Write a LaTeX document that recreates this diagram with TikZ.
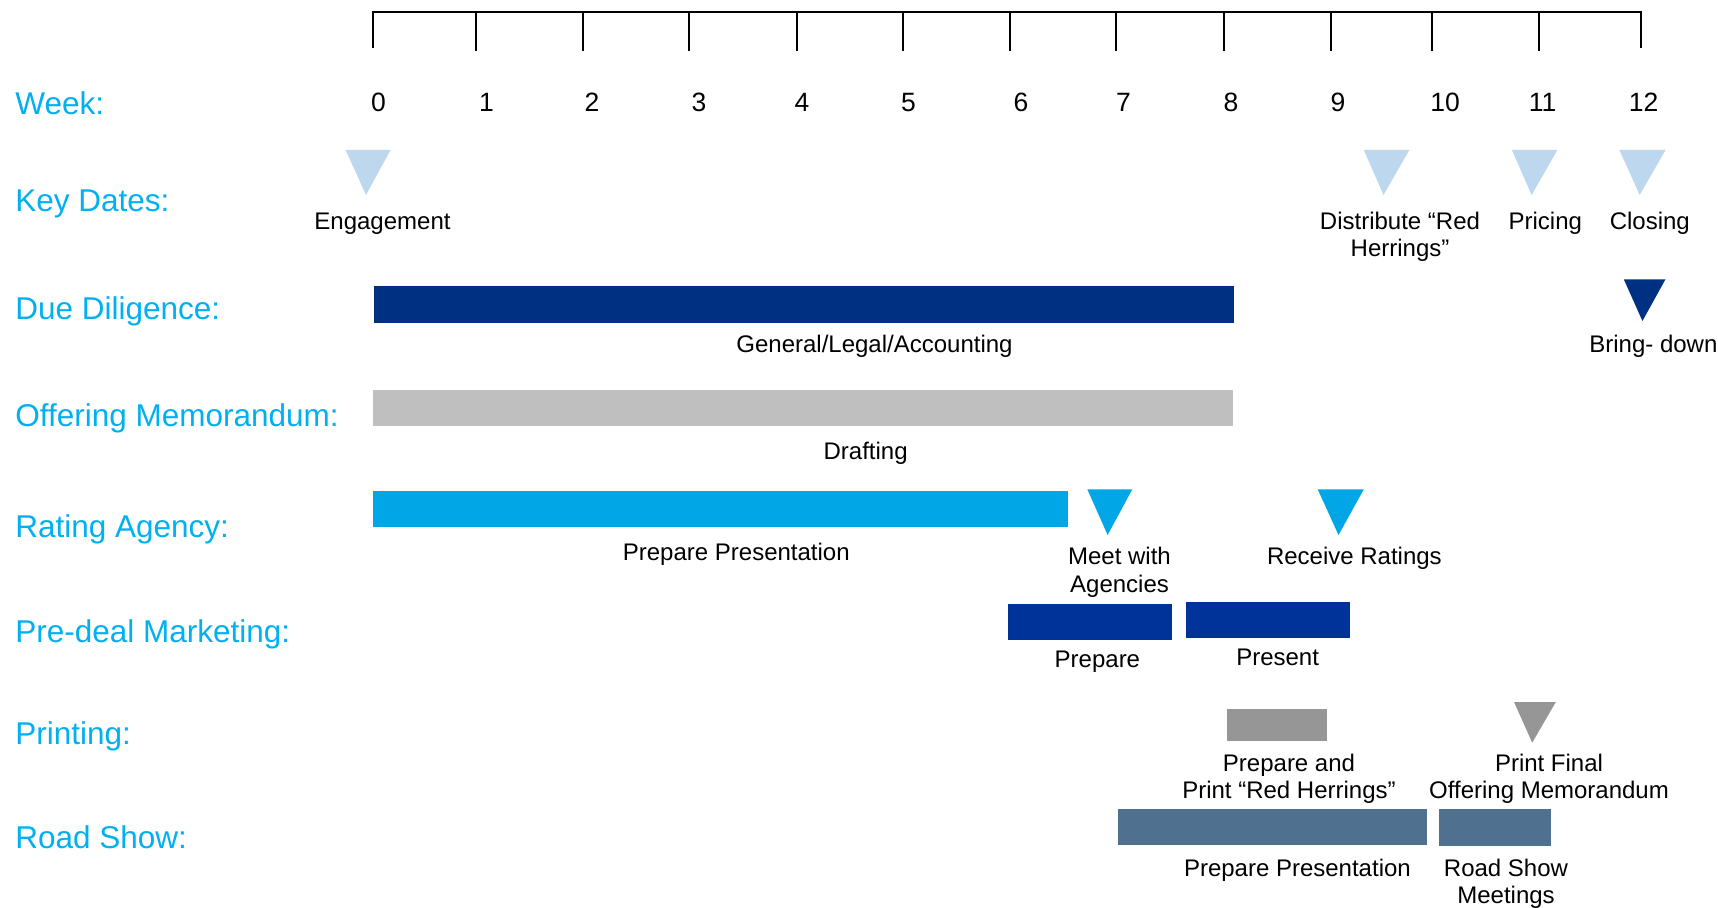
\documentclass[tikz,border=0pt]{standalone}
\usepackage{fontspec}
\setmainfont{Liberation Sans}
\definecolor{rowblue}{RGB}{0,176,240}
\definecolor{keytri}{RGB}{189,215,238}
\definecolor{ddnavy}{RGB}{0,48,130}
\definecolor{omgray}{RGB}{191,191,191}
\definecolor{rabar}{RGB}{0,166,230}
\definecolor{pdblue}{RGB}{0,51,153}
\definecolor{prgray}{RGB}{150,150,150}
\definecolor{rsslate}{RGB}{79,113,143}
\begin{document}
\begin{tikzpicture}[x=0.5pt,y=-0.5pt,
  rowlabel/.style={anchor=base west,inner sep=0pt,text=rowblue,font=\fontsize{15.75}{19}\selectfont},
  tasklabel/.style={anchor=base,inner sep=0pt,align=center,font=\fontsize{12}{13.5}\selectfont},
  weeknum/.style={anchor=base,inner sep=0pt,font=\fontsize{13.25}{16}\selectfont},
  axisline/.style={line width=1pt,line cap=rect}]
\useasboundingbox (0,0) rectangle (1718,908);

% week axis (two-line labels below are anchored at their last baseline)
\draw[axisline] (373,46.7) -- (373,12.3) -- (1641,12.3) -- (1641,46.7);
\foreach \x in {475.6,582.5,689,796.5,903,1010,1116.4,1224,1331,1432,1539}
  \draw[axisline] (\x,12.3) -- (\x,50);
\foreach \n/\x in {0/378.5,1/486.5,2/592,3/699,4/802,5/908.5,6/1021,7/1123.5,8/1231,9/1338,10/1445,11/1542.6,12/1643.5}
  \node[weeknum] (wk\n) at (\x,111.7) {\n};

% row headings
\node[rowlabel] (hweek) at (15,115) {Week:};
\node[rowlabel] (hkey) at (15,212) {Key Dates:};
\node[rowlabel] (hdd) at (15,320) {Due Diligence:};
\node[rowlabel] (hom) at (15,427) {Offering Memorandum:};
\node[rowlabel] (hra) at (15,538) {Rating Agency:};
\node[rowlabel] (hpd) at (15,642) {Pre-deal Marketing:};
\node[rowlabel] (hpr) at (15,744) {Printing:};
\node[rowlabel] (hrs) at (15,848) {Road Show:};

% key dates
\fill[keytri] (345.6,150) -- (390.6,150) -- (366,195) -- cycle;
\fill[keytri] (1363.8,150) -- (1409.3,150) -- (1383.5,195) -- cycle;
\fill[keytri] (1511.9,150) -- (1557.4,150) -- (1531.6,195) -- cycle;
\fill[keytri] (1619.4,150) -- (1665.5,150) -- (1639.7,195) -- cycle;
\node[tasklabel] (engage) at (382.5,230) {Engagement};
\node[tasklabel] (distrib) at (1400,257) {Distribute “Red\\Herrings”};
\node[tasklabel] (pricing) at (1545.3,230) {Pricing};
\node[tasklabel] (closing) at (1649.8,230) {Closing};

% due diligence
\fill[ddnavy] (374,286) rectangle (1234.3,322.7);
\node[tasklabel] (ddtext) at (874.5,353) {General/Legal/Accounting};
\fill[ddnavy] (1623.8,279.3) -- (1665.5,279.3) -- (1642.4,321) -- cycle;
\node[tasklabel] (bringdown) at (1653.4,353) {Bring- down};

% offering memorandum
\fill[omgray] (373,390) rectangle (1233.2,425.7);
\node[tasklabel] (drafting) at (865.6,460) {Drafting};

% rating agency
\fill[rabar] (373,491) rectangle (1068,526.7);
\node[tasklabel] (raprep) at (736.3,560) {Prepare Presentation};
\fill[rabar] (1087.3,489.3) -- (1132.3,489.3) -- (1107.6,535) -- cycle;
\fill[rabar] (1317.7,489.3) -- (1363.8,489.3) -- (1338.5,535) -- cycle;
\node[tasklabel] (meet) at (1119.5,592) {Meet with\\Agencies};
\node[tasklabel] (receive) at (1354.4,565) {Receive Ratings};

% pre-deal marketing
\fill[pdblue] (1007.8,604) rectangle (1172.3,640);
\fill[pdblue] (1186,602) rectangle (1350,637.7);
\node[tasklabel] (pdprep) at (1097.4,667) {Prepare};
\node[tasklabel] (pdpres) at (1277.6,665) {Present};

% printing
\fill[prgray] (1227.2,709) rectangle (1327,740.7);
\fill[prgray] (1514,702) -- (1555.8,702) -- (1532.2,742.7) -- cycle;
\node[tasklabel] (prred) at (1289,798) {Prepare and\\Print “Red Herrings”};
\node[tasklabel] (prfinal) at (1549,798) {Print Final\\Offering Memorandum};

% road show
\fill[rsslate] (1118,809) rectangle (1426.8,845);
\fill[rsslate] (1439,809) rectangle (1551.4,845.7);
\node[tasklabel] (rsprep) at (1297.4,876) {Prepare Presentation};
\node[tasklabel] (rsmeet) at (1506,903) {Road Show\\Meetings};
\end{tikzpicture}
\end{document}
